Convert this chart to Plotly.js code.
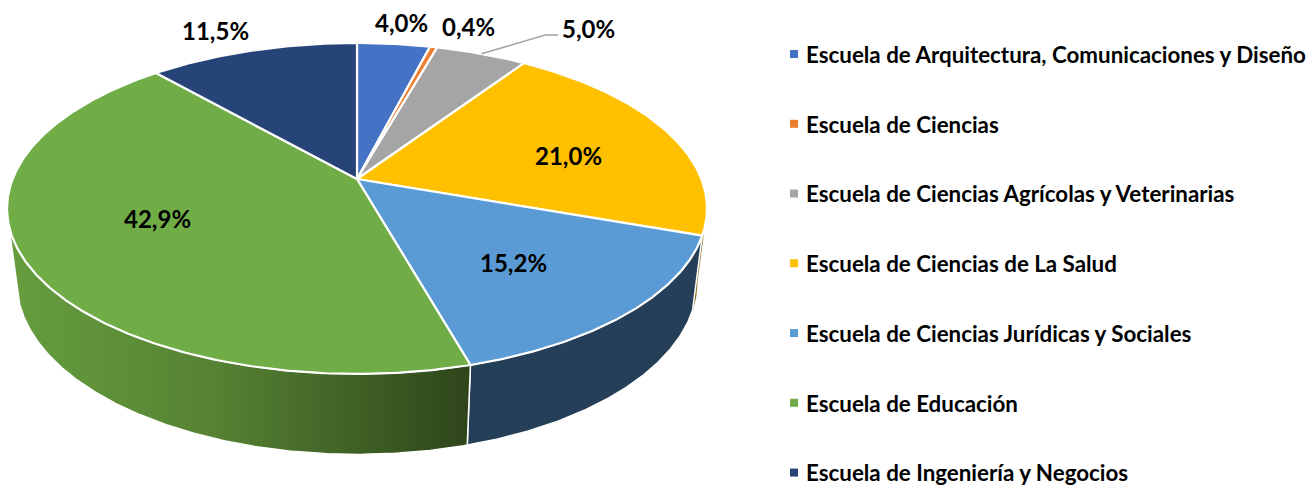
<!DOCTYPE html>
<html>
<head>
<meta charset="utf-8">
<script src="https://cdn.plot.ly/plotly-3.0.1.min.js"></script>
<style>html,body{margin:0;padding:0;background:#fff;overflow:hidden}</style>
</head>
<body>
<div id="chart" style="width:1311px;height:485px"></div>
<script>
const categories = [
  "Escuela de Arquitectura, Comunicaciones y Diseño",
  "Escuela de Ciencias",
  "Escuela de Ciencias Agrícolas y Veterinarias",
  "Escuela de Ciencias de La Salud",
  "Escuela de Ciencias Jurídicas y Sociales",
  "Escuela de Educación",
  "Escuela de Ingeniería y Negocios"
];
const shares = [4.0, 0.4, 5.0, 21.0, 15.2, 42.9, 11.5];
const colors = ["#4472C4", "#ED7D31", "#A5A5A5", "#FFC000", "#5B9BD5", "#70AD47", "#264478"];
const labelSpots = [[401,22],[468,26],[588,28],[568,155],[513,262],[157,218],[215,30]];

// perspective view of the disc
const CX = 357, CY = 179, A = 344.4, B = 160.2, K = 0.178;
const rim = d => {
  const t = d * Math.PI / 180, u = Math.sin(t), v = Math.cos(t), w = 1 + K * v;
  return [CX + A * u / w, CY - B * v / w];
};
const base = d => {
  const p = rim(d);
  return [CX + (p[0] - CX) * 0.972, p[1] + 80.5 - (374 - p[1]) * 0.043];
};
const sweep = (fn, a, b) => {
  const out = [], n = Math.max(2, Math.ceil(Math.abs(b - a) * 2));
  for (let i = 0; i <= n; i++) out.push(fn(a + (b - a) * i / n));
  return out;
};

let running = 0;
const bounds = shares.map(s => { const a = running * 3.6; running += s; return [a, running * 3.6]; });

const poly = (pts, extra) => Object.assign({
  type: "scatter", mode: "lines", x: pts.map(p => p[0]), y: pts.map(p => p[1]),
  fill: "toself", hoverinfo: "skip", showlegend: false
}, extra);

const wall = (a, b, extra) => poly(sweep(rim, a, b).concat(sweep(base, b, a)).concat([rim(a)]), extra);

const traces = [];
// side walls
traces.push(wall(100.2, bounds[3][1], { fillcolor: "#7a5c0c", line: { color: "#7a5c0c", width: 0.5 } }));
traces.push(wall(bounds[4][0], bounds[4][1], { fillcolor: "#243F57", line: { color: "#ffffff", width: 1.5 } }));
traces.push(wall(bounds[5][0], 258, {
  fillcolor: "#5f9439", line: { color: "#ffffff", width: 1.5 },
  fillgradient: { type: "horizontal", colorscale: [[0, "#669E3E"], [0.45, "#568233"], [1, "#2E451A"]] }
}));
// top slices
shares.forEach((s, i) => {
  const pts = [[CX, CY]].concat(sweep(rim, bounds[i][0], bounds[i][1])).concat([[CX, CY]]);
  traces.push(poly(pts, { fillcolor: colors[i], line: { color: "#ffffff", width: 2.2 }, name: categories[i] }));
});
// leader line for the grey slice
const leaderEnd = rim((bounds[2][0] + bounds[2][1]) / 2);
traces.push({ type: "scatter", mode: "lines", x: [leaderEnd[0], 545, 558], y: [leaderEnd[1], 35, 35],
  line: { color: "#A5A5A5", width: 1.5 }, hoverinfo: "skip", showlegend: false });
// legend entries
categories.forEach((c, i) => {
  traces.push({ type: "scatter", mode: "markers", x: [null], y: [null], name: c, legendgroup: "g" + i,
    marker: { symbol: "square", size: 8, color: colors[i] }, hoverinfo: "skip", showlegend: true });
});

const FONT = "Lato, Carlito, sans-serif";
const layout = {
  width: 1311, height: 485, autosize: false,
  margin: { l: 0, r: 0, t: 0, b: 0, pad: 0 },
  paper_bgcolor: "#ffffff", plot_bgcolor: "#ffffff",
  xaxis: { range: [0, 1311], visible: false, fixedrange: true },
  yaxis: { range: [485, 0], visible: false, fixedrange: true },
  showlegend: true, hovermode: false,
  legend: {
    x: 760 / 1311, xanchor: "left", y: 1 - 30 / 485, yanchor: "top",
    orientation: "v", traceorder: "grouped", tracegroupgap: 37.7, itemclick: false, itemdoubleclick: false,
    bgcolor: "rgba(0,0,0,0)", borderwidth: 0,
    font: { family: FONT, size: 22.35, color: "#000000", weight: 700 }
  },
  annotations: shares.map((s, i) => ({
    x: labelSpots[i][0], y: labelSpots[i][1], xref: "x", yref: "y", showarrow: false,
    text: "<b>" + s.toFixed(1).replace(".", ",") + "%</b>",
    font: { family: FONT, size: 24, color: "#000000" }
  }))
};
Plotly.newPlot("chart", traces, layout, { displayModeBar: false, staticPlot: true }).then(() => {
  document.querySelectorAll(".legendpoints").forEach(g => g.setAttribute("transform", "translate(8,0)"));
  document.querySelector(".legend").setAttribute("transform", "translate(766,33)");
});
</script>
</body>
</html>
